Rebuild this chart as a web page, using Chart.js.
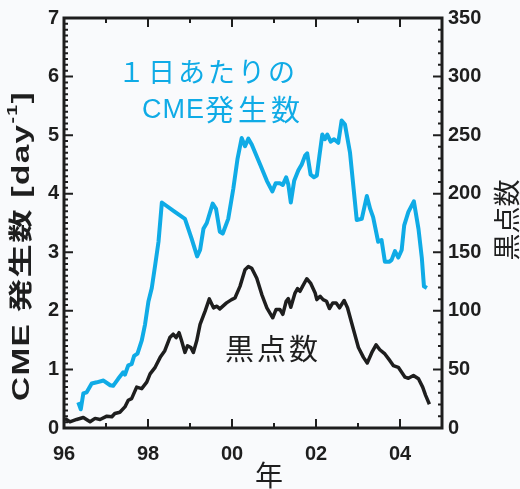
<!DOCTYPE html>
<html>
<head>
<meta charset="utf-8">
<script src="https://cdn.jsdelivr.net/npm/chart.js@4.4.1/dist/chart.umd.min.js"></script>
<style>
  html, body { margin: 0; padding: 0; background: #f9fafc; }
  #wrap { width: 520px; height: 489px; }
</style>
</head>
<body>
<div id="wrap"><canvas id="c" width="520" height="489"></canvas></div>
<script>
// CME rate per day (left axis)
const cmeYears = [1996.34, 1996.40, 1996.46, 1996.54, 1996.66, 1996.78, 1996.94, 1997.10, 1997.17, 1997.29,
  1997.41, 1997.45, 1997.53, 1997.61, 1997.67, 1997.75, 1997.85, 1997.93, 1998.01, 1998.09,
  1998.17, 1998.25, 1998.33, 1998.64, 1998.82, 1998.88, 1999.04, 1999.17, 1999.24, 1999.32,
  1999.40, 1999.54, 1999.62, 1999.71, 1999.78, 1999.91, 2000.03, 2000.13, 2000.23, 2000.31,
  2000.39, 2000.47, 2000.67, 2000.83, 2000.96, 2001.04, 2001.14, 2001.21, 2001.29, 2001.34,
  2001.40, 2001.48, 2001.58, 2001.66, 2001.74, 2001.79, 2001.87, 2001.95, 2002.02, 2002.08,
  2002.15, 2002.21, 2002.27, 2002.35, 2002.43, 2002.53, 2002.61, 2002.69, 2002.81, 2002.97,
  2003.09, 2003.21, 2003.29, 2003.36, 2003.48, 2003.56, 2003.64, 2003.75, 2003.80, 2003.88,
  2003.96, 2004.04, 2004.10, 2004.20, 2004.33, 2004.44, 2004.52, 2004.57, 2004.64];
const cmeRate = [0.44, 0.32, 0.59, 0.61, 0.76, 0.78, 0.81, 0.73, 0.72, 0.84,
  0.95, 0.91, 1.07, 1.09, 1.23, 1.27, 1.49, 1.77, 2.16, 2.39,
  2.78, 3.18, 3.85, 3.69, 3.60, 3.57, 3.23, 2.93, 3.04, 3.40,
  3.50, 3.83, 3.74, 3.35, 3.32, 3.57, 4.08, 4.59, 4.95, 4.81,
  4.94, 4.84, 4.50, 4.22, 4.04, 4.18, 4.18, 4.15, 4.28, 4.16,
  3.85, 4.22, 4.40, 4.50, 4.65, 4.69, 4.33, 4.28, 4.31, 4.64,
  5.01, 4.93, 5.01, 4.89, 4.93, 4.87, 5.25, 5.18, 4.70, 3.55,
  3.57, 3.96, 3.74, 3.60, 3.18, 3.21, 2.84, 2.84, 2.87, 3.02,
  2.91, 3.04, 3.46, 3.69, 3.87, 3.40, 2.90, 2.42, 2.39];

// sunspot number (right axis)
const spotYears = [1996.02, 1996.14, 1996.30, 1996.46, 1996.62, 1996.74, 1996.86, 1997.02, 1997.14, 1997.21,
  1997.33, 1997.45, 1997.53, 1997.61, 1997.73, 1997.85, 1997.97, 1998.05, 1998.17, 1998.29,
  1998.40, 1998.52, 1998.60, 1998.67, 1998.74, 1998.80, 1998.88, 1998.94, 1999.02, 1999.08,
  1999.16, 1999.24, 1999.36, 1999.46, 1999.56, 1999.64, 1999.71, 1999.87, 1999.99, 2000.07,
  2000.19, 2000.31, 2000.39, 2000.47, 2000.59, 2000.71, 2000.83, 2000.97, 2001.05, 2001.14,
  2001.21, 2001.29, 2001.34, 2001.40, 2001.50, 2001.56, 2001.62, 2001.68, 2001.78, 2001.87,
  2001.98, 2002.02, 2002.10, 2002.17, 2002.25, 2002.32, 2002.40, 2002.48, 2002.56, 2002.67,
  2002.75, 2002.89, 2003.01, 2003.13, 2003.22, 2003.33, 2003.43, 2003.52, 2003.64, 2003.76,
  2003.84, 2003.96, 2004.04, 2004.12, 2004.20, 2004.32, 2004.44, 2004.54, 2004.61, 2004.70];
const spotNumber = [8.2, 5.3, 7.3, 9.0, 5.3, 8.2, 7.3, 10.1, 9.6, 12.4,
  13.5, 18.0, 23.7, 25.1, 34.9, 33.6, 39.1, 46.2, 51.8, 60.3,
  66.0, 77.2, 80.1, 77.2, 81.4, 74.4, 64.5, 70.2, 68.7, 64.5,
  74.4, 88.5, 99.8, 110.2, 102.6, 104.0, 101.7, 106.8, 109.6, 111.0,
  120.9, 135.0, 137.8, 136.4, 127.9, 113.9, 102.6, 94.1, 101.2, 101.2,
  97.0, 108.2, 110.5, 103.1, 115.2, 119.0, 116.7, 120.9, 127.4, 123.7,
  115.2, 109.6, 112.4, 109.6, 108.2, 102.0, 106.8, 106.8, 102.6, 108.8,
  102.6, 84.3, 68.7, 60.3, 55.5, 64.5, 71.0, 66.8, 63.2, 57.5,
  53.3, 51.8, 47.6, 43.4, 42.5, 44.8, 42.0, 34.9, 27.9, 20.3];

const yearTicks = [1996, 1998, 2000, 2002, 2004];
const cmeTicks = [0, 1, 2, 3, 4, 5, 6, 7];
const spotTicks = [0, 50, 100, 150, 200, 250, 300, 350];

const CYAN = '#0fabe6';
const INK = '#1e1e1e';
const LATIN = '"Liberation Sans", Arial, "Noto Sans CJK JP", sans-serif';
const JP = '"Noto Sans CJK JP", "Liberation Sans", sans-serif';

const toPts = (xs, ys) => xs.map((x, i) => ({ x: x, y: ys[i] }));

// frame, inward ticks, titles and in-plot labels
const decor = {
  id: 'decor',
  afterDraw(chart) {
    const ctx = chart.ctx;
    const a = chart.chartArea;
    const sx = chart.scales.x, sy = chart.scales.y, sy2 = chart.scales.y2;
    ctx.save();
    ctx.strokeStyle = INK;
    ctx.lineCap = 'butt';

    ctx.lineWidth = 2;
    ctx.beginPath();
    for (let yr = 1996; yr <= 2005; yr++) {
      const px = sx.getPixelForValue(yr);
      const len = yr % 2 === 0 ? 9 : 5;
      ctx.moveTo(px, a.bottom); ctx.lineTo(px, a.bottom - len);
      ctx.moveTo(px, a.top); ctx.lineTo(px, a.top + len);
    }
    for (let i = 0; i <= 70; i++) {
      const py = sy.getPixelForValue(i / 10);
      const len = i % 10 === 0 ? 9 : 4;
      ctx.moveTo(a.left, py); ctx.lineTo(a.left + len, py);
    }
    for (let v = 0; v <= 350; v += 10) {
      const py = sy2.getPixelForValue(v);
      const len = v % 50 === 0 ? 9 : 4;
      ctx.moveTo(a.right, py); ctx.lineTo(a.right - len, py);
    }
    ctx.stroke();

    ctx.lineWidth = 3;
    ctx.strokeRect(a.left, a.top, a.right - a.left, a.bottom - a.top);

    // left axis title with superscript, stretched along its length
    ctx.fillStyle = INK;
    ctx.textBaseline = 'middle';
    ctx.letterSpacing = '1px';
    const main = 'CME 発生数 [day';
    const sup = '-1';
    const tail = ']';
    ctx.font = 'bold 24px ' + LATIN;
    const w1 = ctx.measureText(main).width;
    const w3 = ctx.measureText(tail).width;
    ctx.font = 'bold 14px ' + LATIN;
    const w2 = ctx.measureText(sup).width;
    const total = w1 + w2 + w3;
    ctx.translate(22, 246);
    ctx.rotate(-Math.PI / 2);
    ctx.scale(310 / total, 1);
    let x0 = -total / 2;
    ctx.textAlign = 'left';
    ctx.font = 'bold 24px ' + LATIN;
    ctx.fillText(main, x0, 0);
    ctx.font = 'bold 14px ' + LATIN;
    ctx.fillText(sup, x0 + w1, -9);
    ctx.font = 'bold 24px ' + LATIN;
    ctx.fillText(tail, x0 + w1 + w2, 0);
    ctx.setTransform(1, 0, 0, 1, 0, 0);
    ctx.letterSpacing = '0px';

    // right axis title
    ctx.translate(507, 220);
    ctx.rotate(-Math.PI / 2);
    ctx.textAlign = 'center';
    ctx.font = '27px ' + JP;
    ctx.fillText('黒点数', 0, 0);
    ctx.setTransform(1, 0, 0, 1, 0, 0);

    // x axis title
    ctx.textAlign = 'center';
    ctx.font = '28px ' + JP;
    ctx.fillText('年', 269, 475);

    // in-plot labels
    ctx.textAlign = 'left';
    ctx.fillStyle = CYAN;
    ctx.font = '27px ' + LATIN;
    ctx.letterSpacing = '3px';
    ctx.fillText('１日あたりの', 118, 75);
    ctx.letterSpacing = '1px';
    ctx.fillText('CME', 142, 111);
    ctx.font = '29px ' + JP;
    ctx.letterSpacing = '4px';
    ctx.fillText('発生数', 205, 110);
    ctx.fillStyle = INK;
    ctx.letterSpacing = '3px';
    ctx.font = '29px ' + JP;
    ctx.fillText('黒点数', 225, 349);
    ctx.restore();
  }
};

new Chart(document.getElementById('c'), {
  type: 'line',
  data: {
    datasets: [
      {
        label: 'CME',
        data: toPts(cmeYears, cmeRate),
        yAxisID: 'y',
        borderColor: CYAN,
        borderWidth: 4,
        pointRadius: 0,
        tension: 0,
        borderJoinStyle: 'round'
      },
      {
        label: 'sunspot',
        data: toPts(spotYears, spotNumber),
        yAxisID: 'y2',
        borderColor: INK,
        borderWidth: 3.5,
        pointRadius: 0,
        tension: 0,
        borderJoinStyle: 'round'
      }
    ]
  },
  options: {
    responsive: false,
    animation: false,
    layout: { padding: { top: 14, left: 0, right: 0, bottom: 0 } },
    plugins: { legend: { display: false }, tooltip: { enabled: false } },
    scales: {
      x: {
        type: 'linear', min: 1996, max: 2005,
        afterBuildTicks: s => { s.ticks = yearTicks.map(v => ({ value: v })); },
        afterFit: s => { s.height = 61; },
        grid: { display: false, drawTicks: false },
        border: { display: false },
        ticks: {
          padding: 14, color: INK,
          font: { family: LATIN, size: 20, weight: 'bold' },
          callback: v => String(v % 100).padStart(2, '0')
        }
      },
      y: {
        position: 'left', min: 0, max: 7,
        afterBuildTicks: s => { s.ticks = cmeTicks.map(v => ({ value: v })); },
        afterFit: s => { s.width = 64; },
        grid: { display: false, drawTicks: false },
        border: { display: false },
        ticks: { padding: 5, color: INK, font: { family: LATIN, size: 20, weight: 'bold' } }
      },
      y2: {
        position: 'right', min: 0, max: 350,
        afterBuildTicks: s => { s.ticks = spotTicks.map(v => ({ value: v })); },
        afterFit: s => { s.width = 78; },
        grid: { display: false, drawTicks: false },
        border: { display: false },
        ticks: { padding: 6, color: INK, font: { family: LATIN, size: 20, weight: 'bold' } }
      }
    }
  },
  plugins: [decor]
});
</script>
</body>
</html>
